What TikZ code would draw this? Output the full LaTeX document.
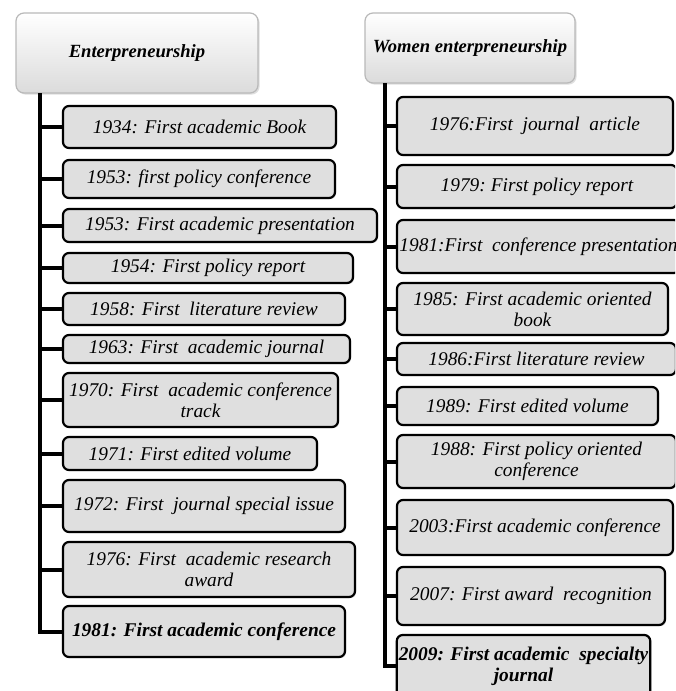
\documentclass[tikz,border=0pt]{standalone}
\usepackage{fontspec}
\setmainfont{Liberation Serif}
\usetikzlibrary{shadows}
\tikzset{
  item/.style={draw=black, line width=1.1pt, rounded corners=3pt, fill=gray!25,
    inner sep=1pt, align=center,
    drop shadow={opacity=0.25, shadow xshift=0.6pt, shadow yshift=-0.6pt},
    font=\fontsize{9.7}{10.6}\selectfont\itshape},
  head/.style={draw=gray!55, line width=0.6pt, rounded corners=4pt,
    top color=white, bottom color=gray!28, inner sep=1pt,
    drop shadow={opacity=0.25, shadow xshift=0.8pt, shadow yshift=-0.8pt},
    font=\fontsize{9.3}{10.4}\selectfont\bfseries\itshape},
  link/.style={line width=2pt, black}
}
\begin{document}
\begin{tikzpicture}[x=0.5pt,y=-0.5pt]
        \fill[white] (0,0) rectangle (675,691);
        \useasboundingbox (0,0) rectangle (675,691);
        \clip (0,0) rectangle (675,691);
        % left column
        \node[head, minimum width=121pt, minimum height=40pt] (lh) at (137,53) {Enterpreneurship};
        \coordinate (ltop) at (40,93);
        \node[item, minimum width=136.5pt, minimum height=21pt] (l1) at (199.5,127) {1934: First academic Book};
        \node[item, minimum width=136pt, minimum height=19pt] (l2) at (199,179) {1953: first policy conference};
        \node[item, minimum width=157pt, minimum height=16.5pt] (l3) at (220,225.5) {1953: First academic presentation};
        \node[item, minimum width=145pt, minimum height=15pt] (l4) at (208,268) {1954: First policy report};
        \node[item, minimum width=141pt, minimum height=16pt] (l5) at (204,309) {1958: First\ \ literature review};
        \node[item, minimum width=143.5pt, minimum height=14pt] (l6) at (206.5,349) {1963: First\ \ academic journal};
        \node[item, minimum width=137.5pt, minimum height=27pt] (l7) at (200.5,400) {1970: First\ \ academic conference\\track};
        \node[item, minimum width=127pt, minimum height=16.5pt] (l8) at (190,453.5) {1971: First edited volume};
        \node[item, minimum width=141pt, minimum height=26pt] (l9) at (204,506) {1972: First\ \ journal special issue};
        \node[item, minimum width=146pt, minimum height=27.5pt] (l10) at (209,569.5) {1976: First\ \ academic research\\award};
        \node[item, minimum width=141pt, minimum height=25.5pt, font=\fontsize{9.7}{10.6}\selectfont\bfseries\itshape] (l11) at (204,631.5) {1981: First academic conference};
        \draw[link] (ltop) |- (l11.west);
        \draw[link] (ltop) |- (l1.west);
        \draw[link] (ltop) |- (l2.west);
        \draw[link] (ltop) |- (l3.west);
        \draw[link] (ltop) |- (l4.west);
        \draw[link] (ltop) |- (l5.west);
        \draw[link] (ltop) |- (l6.west);
        \draw[link] (ltop) |- (l7.west);
        \draw[link] (ltop) |- (l8.west);
        \draw[link] (ltop) |- (l9.west);
        \draw[link] (ltop) |- (l10.west);
        % right column
        \node[head, minimum width=105pt, minimum height=35pt] (rh) at (470,48) {Women enterpreneurship};
        \coordinate (rtop) at (385,83);
        \node[item, minimum width=138pt, minimum height=29pt] (r1) at (535,126) {1976:First\ \ journal\ \ article};
        \node[item, minimum width=140pt, minimum height=21.5pt] (r2) at (537,186.5) {1979:\ First policy report};
        \node[item, minimum width=141.5pt, minimum height=26.5pt] (r3) at (538.5,246.5) {1981:First\ \ conference presentation};
        \node[item, minimum width=135.5pt, minimum height=26pt] (r4) at (532.5,309) {1985: First academic oriented\\book};
        \node[item, minimum width=139.5pt, minimum height=16pt] (r5) at (536.5,359) {1986:First literature review};
        \node[item, minimum width=130.5pt, minimum height=19pt] (r6) at (527.5,406) {1989: First edited volume};
        \node[item, minimum width=139.5pt, minimum height=26.5pt] (r7) at (536.5,461.5) {1988: First policy oriented\\conference};
        \node[item, minimum width=138pt, minimum height=27.5pt] (r8) at (535,527.5) {2003:First academic conference};
        \node[item, minimum width=134pt, minimum height=29pt] (r9) at (531,596) {2007: First award\ \ recognition};
        \node[item, minimum width=126.5pt, minimum height=31pt, font=\fontsize{9.7}{10.6}\selectfont\bfseries\itshape] (r10) at (523.5,666) {2009: First academic\ \ specialty\\journal};
        \draw[link] (rtop) |- (r10.west);
        \draw[link] (rtop) |- (r1.west);
        \draw[link] (rtop) |- (r2.west);
        \draw[link] (rtop) |- (r3.west);
        \draw[link] (rtop) |- (r4.west);
        \draw[link] (rtop) |- (r5.west);
        \draw[link] (rtop) |- (r6.west);
        \draw[link] (rtop) |- (r7.west);
        \draw[link] (rtop) |- (r8.west);
        \draw[link] (rtop) |- (r9.west);
\end{tikzpicture}
\end{document}
